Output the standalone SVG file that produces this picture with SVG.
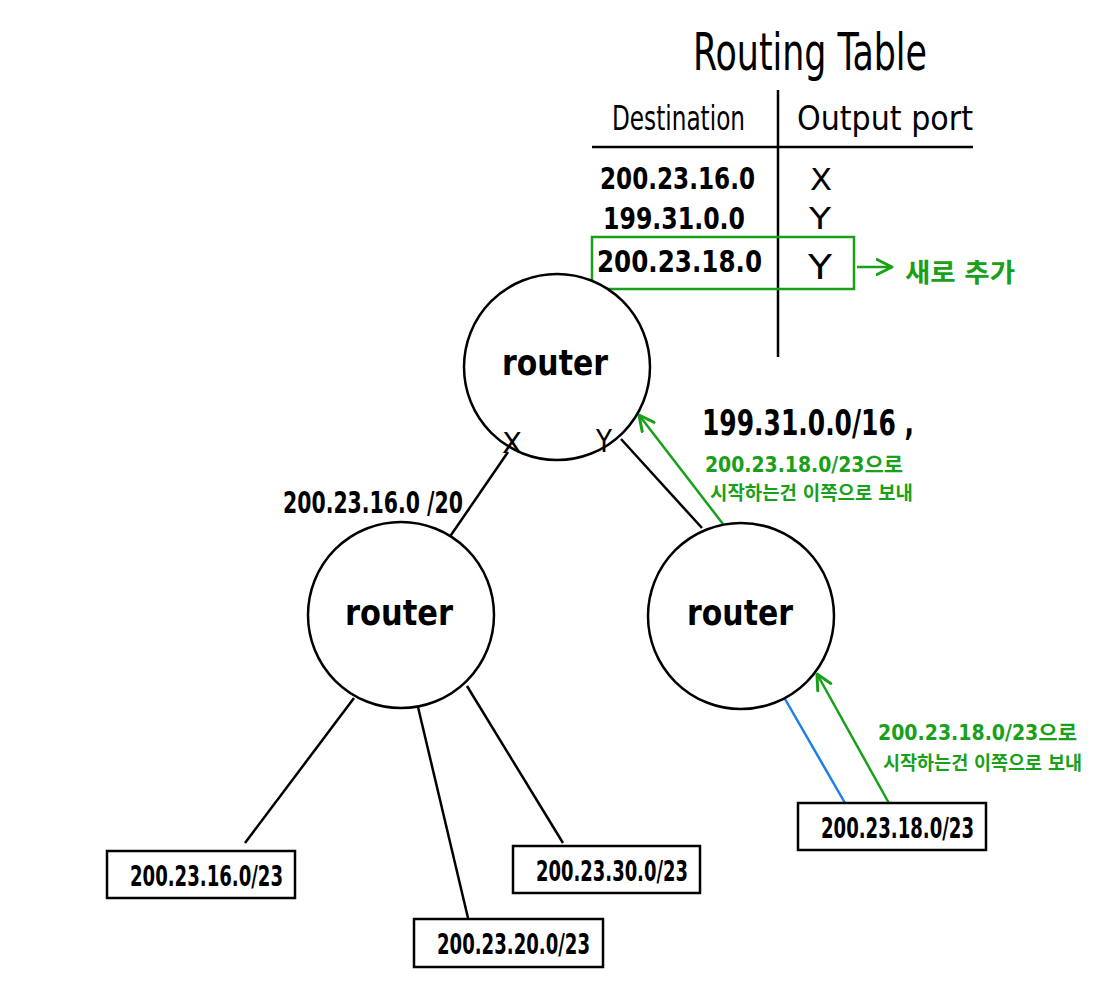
<svg xmlns="http://www.w3.org/2000/svg" width="1100" height="1000" viewBox="0 0 1100 1000">
<defs>
<marker id="ga" viewBox="0 0 12 12" refX="11" refY="6" markerWidth="18" markerHeight="18" markerUnits="userSpaceOnUse" orient="auto">
<path d="M1,1 L11,6 L1,11" fill="none" stroke="#18a018" stroke-width="2" stroke-linecap="round" stroke-linejoin="round"/>
</marker>
</defs>
<style>
.hw{font-family:"DejaVu Sans Condensed","DejaVu Sans","Liberation Sans",sans-serif;fill:#000}
.b{font-weight:bold}
.kr{font-family:"DejaVu Sans Condensed","Noto Sans CJK KR",sans-serif;font-weight:bold;fill:#18a018}
.node{fill:#fff;stroke:#000;stroke-width:2.5}
.box{fill:#fff;stroke:#000;stroke-width:2.5}
.ln{stroke:#000;stroke-width:2.5;fill:none}
.gl{stroke:#18a018;stroke-width:2.5;fill:none}
.bl{stroke:#1e7fe8;stroke-width:2.5;fill:none}
</style>
<rect width="1100" height="1000" fill="#fff"/>

<g id="connectors">
<line class="ln" x1="508" y1="452" x2="449" y2="538"/>
<line class="ln" x1="621" y1="439" x2="702" y2="528"/>
<line class="gl" x1="723" y1="524" x2="639" y2="415" marker-end="url(#ga)"/>
<line class="ln" x1="354" y1="698" x2="245" y2="843"/>
<line class="ln" x1="418" y1="707" x2="468" y2="918"/>
<line class="ln" x1="467" y1="686" x2="563" y2="843"/>
<line class="bl" x1="785" y1="699" x2="845" y2="803"/>
<line class="gl" x1="890" y1="805" x2="817" y2="674" marker-end="url(#ga)"/>
</g>

<g id="routing-table">
<text class="hw" x="693" y="70" font-size="52" textLength="234" lengthAdjust="spacingAndGlyphs">Routing Table</text>
<text class="hw" x="612" y="130" font-size="34" textLength="133" lengthAdjust="spacingAndGlyphs">Destination</text>
<text class="hw" x="797" y="130" font-size="34" textLength="176" lengthAdjust="spacingAndGlyphs">Output port</text>
<line class="ln" x1="592" y1="147" x2="973" y2="147"/>
<line class="ln" x1="778" y1="90" x2="778" y2="357"/>
<text class="hw b" x="600" y="189" font-size="30" textLength="155" lengthAdjust="spacingAndGlyphs">200.23.16.0</text>
<text class="hw" x="810" y="190" font-size="30" textLength="22" lengthAdjust="spacingAndGlyphs">X</text>
<text class="hw b" x="603" y="229" font-size="30" textLength="142" lengthAdjust="spacingAndGlyphs">199.31.0.0</text>
<text class="hw" x="809" y="229" font-size="30" textLength="22" lengthAdjust="spacingAndGlyphs">Y</text>
<text class="hw b" x="597" y="272" font-size="30" textLength="165" lengthAdjust="spacingAndGlyphs">200.23.18.0</text>
<text class="hw" x="808" y="279" font-size="34" textLength="24" lengthAdjust="spacingAndGlyphs">Y</text>
<rect x="592" y="237" width="262" height="52" fill="none" stroke="#18a018" stroke-width="2.5"/>
<line class="gl" x1="857" y1="267" x2="892" y2="267" marker-end="url(#ga)"/>
<text class="kr" x="905" y="282" font-size="26" textLength="110" lengthAdjust="spacingAndGlyphs">새로 추가</text>
</g>

<g id="router-top">
<circle class="node" cx="557" cy="367" r="93"/>
<text class="hw b" x="502" y="375" font-size="36" textLength="106" lengthAdjust="spacingAndGlyphs">router</text>
<text class="hw" x="502" y="453" font-size="28" textLength="20" lengthAdjust="spacingAndGlyphs">X</text>
<text class="hw" x="596" y="452" font-size="32" textLength="16" lengthAdjust="spacingAndGlyphs">Y</text>
</g>

<g id="router-left">
<circle class="node" cx="401" cy="615" r="93"/>
<text class="hw b" x="345" y="625" font-size="36" textLength="108" lengthAdjust="spacingAndGlyphs">router</text>
</g>

<g id="router-right">
<circle class="node" cx="741" cy="616" r="93"/>
<text class="hw b" x="687" y="625" font-size="36" textLength="106" lengthAdjust="spacingAndGlyphs">router</text>
</g>

<g id="label-left-link">
<text class="hw b" x="283" y="513" font-size="30" textLength="180" lengthAdjust="spacingAndGlyphs">200.23.16.0 /20</text>
</g>

<g id="label-right-link">
<text class="hw b" x="702" y="435" font-size="36" textLength="212" lengthAdjust="spacingAndGlyphs">199.31.0.0/16 ,</text>
<text class="kr" x="705" y="472" font-size="21" textLength="198" lengthAdjust="spacingAndGlyphs">200.23.18.0/23으로</text>
<text class="kr" x="710" y="500" font-size="19" textLength="203" lengthAdjust="spacingAndGlyphs">시작하는건 이쪽으로 보내</text>
</g>

<g id="label-box4-link">
<text class="kr" x="878" y="740" font-size="21" textLength="199" lengthAdjust="spacingAndGlyphs">200.23.18.0/23으로</text>
<text class="kr" x="883" y="770" font-size="19" textLength="199" lengthAdjust="spacingAndGlyphs">시작하는건 이쪽으로 보내</text>
</g>

<g id="net-16">
<rect class="box" x="107" y="851" width="188" height="47"/>
<text class="hw b" x="130" y="886" font-size="28" textLength="153" lengthAdjust="spacingAndGlyphs">200.23.16.0/23</text>
</g>

<g id="net-20">
<rect class="box" x="414" y="919" width="189" height="48"/>
<text class="hw b" x="437" y="954" font-size="28" textLength="153" lengthAdjust="spacingAndGlyphs">200.23.20.0/23</text>
</g>

<g id="net-30">
<rect class="box" x="513" y="846" width="187" height="47"/>
<text class="hw b" x="536" y="881" font-size="28" textLength="152" lengthAdjust="spacingAndGlyphs">200.23.30.0/23</text>
</g>

<g id="net-18">
<rect class="box" x="798" y="803" width="188" height="47"/>
<text class="hw b" x="821" y="838" font-size="28" textLength="153" lengthAdjust="spacingAndGlyphs">200.23.18.0/23</text>
</g>
</svg>
